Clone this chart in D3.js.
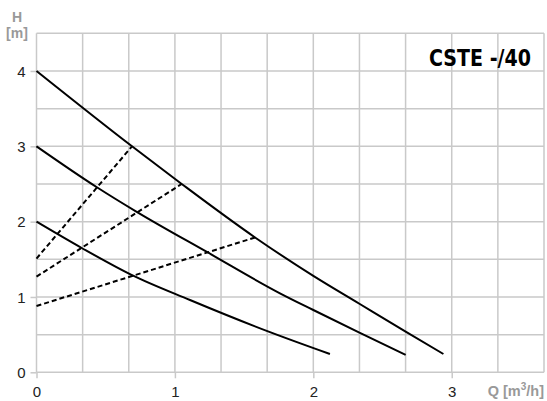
<!DOCTYPE html>
<html><head><meta charset="utf-8">
<script src="https://cdn.jsdelivr.net/npm/d3@7"></script>
<style>body{margin:0;background:#fff}svg{display:block}</style>
</head><body><svg id="c" width="547" height="401"></svg>
<script>
const title = "CSTE -/40";
const xTicks = [0, 1, 2, 3];
const yTicks = [0, 1, 2, 3, 4];
// pump curves (Q, H)
const curveHigh = [[0,4.0],[0.69,3.0],[1.049,2.50],[1.579,1.79],[2.0,1.28],[2.333,0.91],[2.667,0.54],[2.94,0.243]];
const curveMid  = [[0,3.0],[0.442,2.45],[0.724,2.13],[1.234,1.594],[1.759,1.049],[2.0,0.827],[2.333,0.526],[2.667,0.23]];
const curveLow  = [[0,2.0],[0.327,1.65],[0.69,1.29],[1.109,0.96],[1.663,0.55],[2.12,0.243]];
// dashed operating lines
const dash1 = [[0,1.51],[0.69,3.0]];
const dash2 = [[0,1.27],[1.049,2.50]];
const dash3 = [[0,0.88],[1.579,1.79]];

const svg = d3.select("#c");
const x = d3.scaleLinear().domain([0, 11/3]).range([36.5, 544]);
const y = d3.scaleLinear().domain([0, 4.5]).range([372.3, 33.3]);

const g = svg.append("g");
// grid
const vx = d3.range(0, 12).map(i => i/3);
const hy = d3.range(0, 10).map(i => i/2);
g.selectAll("line.v").data(vx).enter().append("line")
  .attr("x1", d => x(d)).attr("x2", d => x(d)).attr("y1", y(0)).attr("y2", y(4.5))
  .attr("stroke", "#c9c9c9").attr("stroke-width", 1.5);
g.selectAll("line.h").data(hy).enter().append("line")
  .attr("x1", x(0)).attr("x2", x(11/3)).attr("y1", d => y(d)).attr("y2", d => y(d))
  .attr("stroke", "#c9c9c9").attr("stroke-width", 1.5);

// axes
const xAxis = d3.axisBottom(x).tickValues(xTicks).tickSize(6).tickFormat(d3.format("d"));
const yAxis = d3.axisLeft(y).tickValues(yTicks).tickSize(6).tickFormat(d3.format("d"));
const ax = svg.append("g").attr("transform", `translate(0,${y(0)})`).call(xAxis);
const ay = svg.append("g").attr("transform", `translate(${x(0)},0)`).call(yAxis);
[ax, ay].forEach(a => {
  a.select(".domain").remove();
  a.selectAll(".tick line").attr("stroke", "#c9c9c9").attr("stroke-width", 1.5);
  a.selectAll(".tick text").attr("fill", "#222").attr("font-family", "Liberation Sans, Arial, sans-serif").attr("font-size", 15);
});
ax.selectAll(".tick text").attr("dy", "1.05em");
ay.selectAll(".tick text").attr("x", -11).attr("dy", "0.35em");

const line = d3.line().x(d => x(d[0])).y(d => y(d[1])).curve(d3.curveMonotoneX);
[curveHigh, curveMid, curveLow].forEach(c => {
  svg.append("path").attr("d", line(c)).attr("fill", "none").attr("stroke", "#000").attr("stroke-width", 2);
});
const sline = d3.line().x(d => x(d[0])).y(d => y(d[1]));
[dash1, dash2, dash3].forEach(c => {
  svg.append("path").attr("d", sline(c)).attr("fill", "none").attr("stroke", "#000").attr("stroke-width", 2).attr("stroke-dasharray", "5,3");
});

// labels
svg.append("text").attr("x", 17).attr("y", 22).attr("text-anchor", "middle")
  .attr("font-family", "Liberation Sans, Arial, sans-serif").attr("font-weight", "bold").attr("font-size", 14).attr("fill", "#999").text("H");
svg.append("text").attr("x", 17).attr("y", 38).attr("text-anchor", "middle")
  .attr("font-family", "Liberation Sans, Arial, sans-serif").attr("font-weight", "bold").attr("font-size", 14).attr("fill", "#999").text("[m]");
const q = svg.append("text").attr("x", 544).attr("y", 396).attr("text-anchor", "end")
  .attr("font-family", "Liberation Sans, Arial, sans-serif").attr("font-weight", "bold").attr("font-size", 14.5).attr("fill", "#999");
q.append("tspan").text("Q [m");
q.append("tspan").attr("font-size", 10).attr("dy", -6).text("3");
q.append("tspan").attr("dy", 6).text("/h]");

svg.append("text").attr("x", 429).attr("y", 66)
  .attr("font-family", "DejaVu Sans Condensed, DejaVu Sans, sans-serif").attr("font-stretch", "condensed")
  .attr("font-weight", "bold").attr("font-size", 23).attr("fill", "#000")
  .attr("textLength", 102).attr("lengthAdjust", "spacingAndGlyphs").text(title);
</script></body></html>
